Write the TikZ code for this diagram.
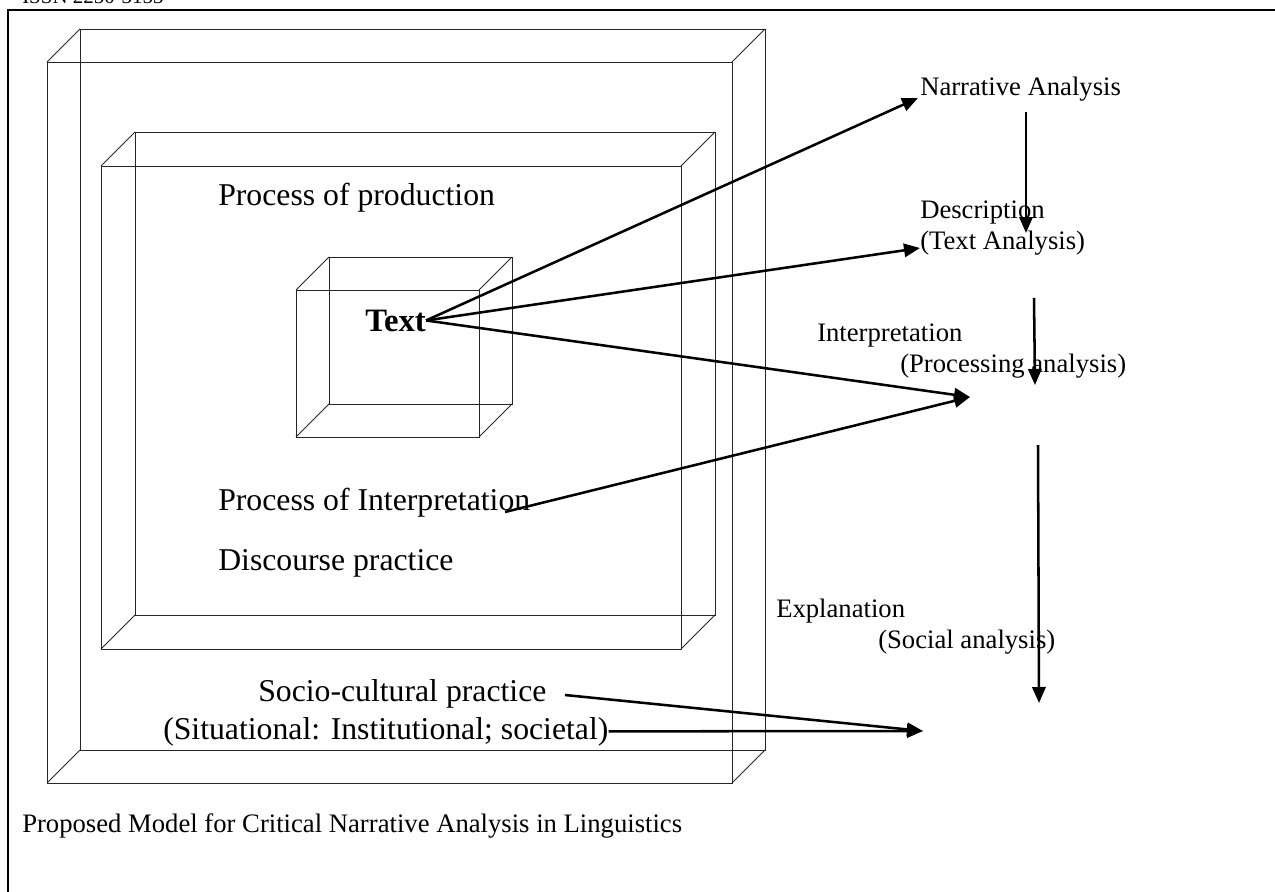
\documentclass[tikz,border=0pt]{standalone}
\usepackage{fontspec}
\setmainfont{Liberation Serif}
\usetikzlibrary{arrows.meta}
\begin{document}
\begin{tikzpicture}[x=0.75pt,y=-0.75pt,
  box/.style={line width=0.6pt, draw=black!85},
  arr/.style={line width=1.9pt, -{Triangle[length=12pt,width=10pt]}},
  big/.style={inner sep=0pt, anchor=base west, font=\fontsize{23.8}{28}\selectfont},
  small/.style={inner sep=0pt, anchor=base west, font=\fontsize{20}{24}\selectfont},
  issn/.style={inner sep=0pt, anchor=base west, font=\fontsize{15.7}{18}\selectfont},
  frame/.style={line width=1.6pt}
]
\useasboundingbox (0,0) rectangle (1275,892);

% page frame
\draw[frame] (8,905) -- (8,10) -- (1290,10);
\node[issn] (issn) at (22,4) {ISSN 2250-3153};

% outer cuboid
\draw[box] (47,62) rectangle (732,783);
\draw[box] (80,29) rectangle (765,750);
\draw[box] (47,62)--(80,29) (732,62)--(765,29) (732,783)--(765,750) (47,783)--(80,750);
% middle cuboid
\draw[box] (101,166) rectangle (681,649);
\draw[box] (135,132) rectangle (715,615);
\draw[box] (101,166)--(135,132) (681,166)--(715,132) (681,649)--(715,615) (101,649)--(135,615);
% inner cuboid
\draw[box] (296,290) rectangle (479,437);
\draw[box] (329,257) rectangle (512,404);
\draw[box] (296,290)--(329,257) (479,290)--(512,257) (479,437)--(512,404) (296,437)--(329,404);

% texts
\node[big] (pp) at (218,205) {Process of production};
\node[big, font=\fontsize{24.5}{28}\selectfont\bfseries] (txt) at (365,331) {Text};
\node[big] (pi) at (218,510) {Process of Interpretation};
\node[big] (dp) at (218,570) {Discourse practice};
\node[big] (scp) at (258,701) {Socio-cultural practice};
\node[big] (sit) at (163,739) {(Situational: Institutional; societal)};

\node[small] (na) at (920,96) {Narrative Analysis};
\node[small] (desc) at (920,218) {Description};
\node[small] (ta) at (920,249) {(Text Analysis)};
\node[small] (interp) at (817,341) {Interpretation};
\node[small] (proc) at (900,372) {(Processing analysis)};
\node[small] (expl) at (776,617) {Explanation};
\node[small] (soc) at (878,648) {(Social analysis)};
\node[small] (cap) at (22,832) {Proposed Model for Critical Narrative Analysis in Linguistics};

% connector end points
\coordinate (tNA) at (918,98);
\coordinate (tTA) at (920,248);
\coordinate (tPA) at (970,397);
\coordinate (tSC) at (923,731);
\coordinate (piS) at (505,512);
\coordinate (scS) at (565,695);
\coordinate (v1s) at (1026,112);
\coordinate (v1e) at (1026,233);
\coordinate (v2s) at (1034,298);
\coordinate (v2e) at (1035,385);
\coordinate (v3s) at (1038,445);
\coordinate (v3e) at (1039,703);

% connectors
\draw[arr] (txt.east) -- (tNA);
\draw[arr] (txt.east) -- (tTA);
\draw[arr] (txt.east) -- (tPA);
\draw[arr] (piS) -- (tPA);
\draw[arr] (scS) -- (tSC);
\draw[arr] (sit.east) -- (tSC);
\draw[arr] (v1s) -- (v1e);
\draw[arr] (v2s) -- (v2e);
\draw[arr] (v3s) -- (v3e);
\end{tikzpicture}
\end{document}
